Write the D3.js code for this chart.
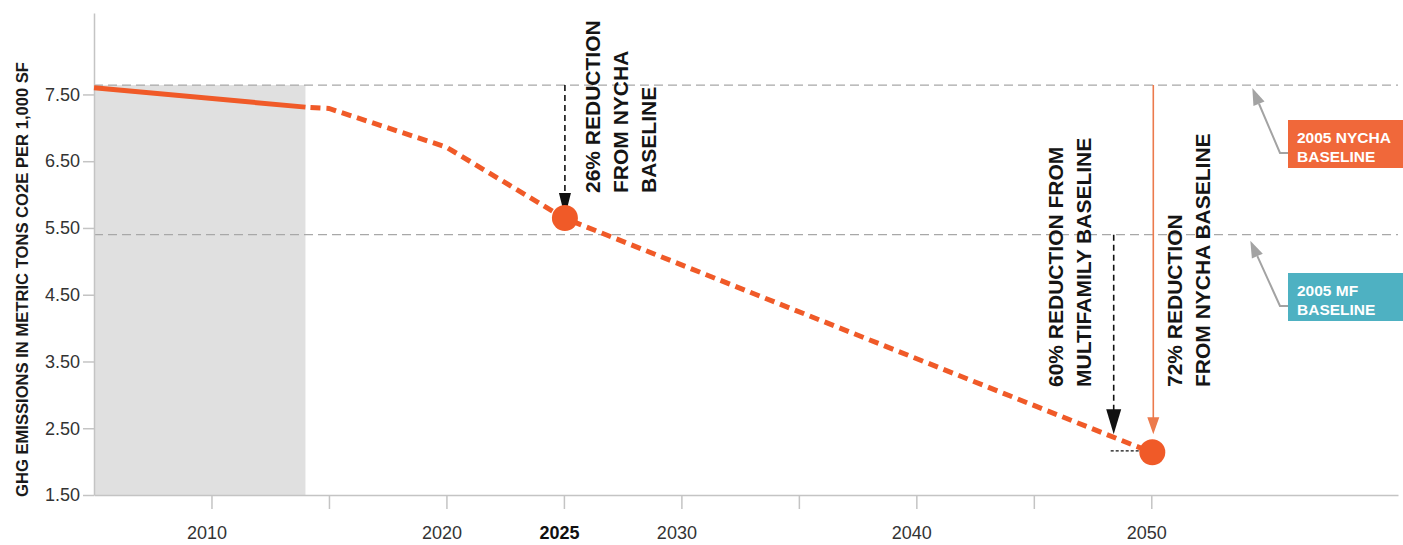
<!DOCTYPE html>
<html>
<head>
<meta charset="utf-8">
<script src="https://cdn.jsdelivr.net/npm/d3@7"></script>
<style>
  body { margin: 0; background: #ffffff; }
  svg { display: block; font-family: "Liberation Sans", Arial, Helvetica, sans-serif; }
</style>
</head>
<body>
<svg></svg>
<script>
const WIDTH = 1403;
const HEIGHT = 545;

// measured emissions and projected path
const actualYears = [2005, 2014];
const actualValues = [7.60, 7.31];
const planYears = [2014, 2015, 2020, 2025, 2050];
const planValues = [7.31, 7.29, 6.71, 5.65, 2.14];
const targetYears = [2025, 2050];
const targetValues = [5.65, 2.14];

// 2005 baselines
const baselineNames = ["2005 NYCHA", "2005 MF"];
const baselineValues = [7.64, 5.40];

const xTicks = [2010, 2015, 2020, 2025, 2030, 2035, 2040, 2045, 2050];
const xTickLabels = ["2010", "", "2020", "2025", "2030", "", "2040", "", "2050"];
const yTicks = [1.5, 2.5, 3.5, 4.5, 5.5, 6.5, 7.5];
const historyEnd = 2014;

const yTitle = "GHG EMISSIONS IN METRIC TONS CO2E PER 1,000 SF";
const note2025 = ["26% REDUCTION", "FROM NYCHA", "BASELINE"];
const noteMF = ["60% REDUCTION FROM", "MULTIFAMILY BASELINE"];
const noteNYCHA = ["72% REDUCTION", "FROM NYCHA BASELINE"];

const ORANGE = "#f05a28";

function drawArrow(g, xPos, yFrom, yTo, opts) {
    const headLen = opts.headLen, headWidth = opts.headWidth;
    g.append("line")
        .attr("x1", xPos).attr("x2", xPos)
        .attr("y1", yFrom).attr("y2", yTo - headLen + 2)
        .style("stroke", opts.color)
        .style("stroke-width", opts.width)
        .style("stroke-dasharray", opts.dash || null);
    g.append("path")
        .attr("d", `M${xPos},${yTo}L${xPos - headWidth / 2},${yTo - headLen}L${xPos + headWidth / 2},${yTo - headLen}Z`)
        .style("fill", opts.color);
}

function drawNote(g, xPos, yPos, lines) {
    lines.forEach((t, i) => {
        g.append("text")
            .attr("transform", `translate(${xPos + i * 28},${yPos}) rotate(-90)`)
            .attr("text-anchor", "start")
            .style("font-size", "21px")
            .style("font-weight", "bold")
            .style("fill", "#151515")
            .text(t);
    });
}

function drawLegendArrow(g, tipX, tipY, elbowX, elbowY, boxX) {
    const angle = Math.atan2(tipY - elbowY, tipX - elbowX);
    const headLen = 17, headWidth = 12;
    const bx = tipX - headLen * Math.cos(angle), by = tipY - headLen * Math.sin(angle);
    const px = -Math.sin(angle) * headWidth / 2, py = Math.cos(angle) * headWidth / 2;
    g.append("path")
        .attr("d", `M${boxX},${elbowY}L${elbowX},${elbowY}L${bx},${by}`)
        .style("fill", "none")
        .style("stroke", "#a3a3a3")
        .style("stroke-width", 2);
    g.append("path")
        .attr("d", `M${tipX},${tipY}L${bx + px},${by + py}L${bx - px},${by - py}Z`)
        .style("fill", "#a3a3a3");
}

function drawChart(svg) {
    svg.attr("width", WIDTH).attr("height", HEIGHT);

    const x = d3.scaleLinear().domain([2005, 2060.5]).range([94, 1398]);
    const y = d3.scaleLinear().domain([1.5, 8.72]).range([495, 13]);

    const g = svg.append("g");

    // shaded history period
    g.append("rect")
        .attr("x", x(2005))
        .attr("y", y(baselineValues[0]))
        .attr("width", x(historyEnd) - x(2005))
        .attr("height", y(1.5) - y(baselineValues[0]))
        .style("fill", "#e0e0e0");

    // baselines
    g.selectAll("line.baseline")
        .data(baselineValues)
        .enter().append("line")
        .attr("class", "baseline")
        .attr("x1", x(2005)).attr("x2", x.range()[1])
        .attr("y1", d => y(d)).attr("y2", d => y(d))
        .style("stroke", "#a8a8a8")
        .style("stroke-width", 1.3)
        .style("stroke-dasharray", "9,5");

    const xAxis = g.append("g")
        .attr("transform", `translate(0,${y(1.5)})`)
        .call(d3.axisBottom(x)
            .tickValues(xTicks)
            .tickSize(14)
            .tickSizeOuter(0)
            .tickPadding(17)
            .tickFormat((d, i) => xTickLabels[i]));

    const yAxis = g.append("g")
        .attr("transform", `translate(${x(2005)},0)`)
        .call(d3.axisLeft(y)
            .tickValues(yTicks)
            .tickSize(11)
            .tickSizeOuter(0)
            .tickPadding(3)
            .tickFormat(d3.format(".2f")));

    [xAxis, yAxis].forEach(a => {
        a.selectAll("path, line").style("stroke", "#c4c4c4").style("stroke-width", 1.5);
        a.selectAll("text")
            .style("font-size", "18px")
            .style("font-family", "'Liberation Sans', Arial, Helvetica")
            .style("fill", "#333333");
    });
    xAxis.selectAll("text").attr("dx", -5);
    xAxis.selectAll("text")
        .filter(d => d === 2025)
        .style("font-weight", "bold")
        .style("fill", "#111111");

    const line = d3.line()
        .x(d => x(d[0]))
        .y(d => y(d[1]));

    g.append("path")
        .datum(d3.zip(actualYears, actualValues))
        .attr("d", line)
        .style("fill", "none")
        .style("stroke", ORANGE)
        .style("stroke-width", 5);

    g.append("path")
        .datum(d3.zip(planYears, planValues))
        .attr("d", line)
        .style("fill", "none")
        .style("stroke", ORANGE)
        .style("stroke-width", 5)
        .style("stroke-dasharray", "10,6")
        .style("stroke-dashoffset", -5);

    // arrows to the targets
    drawArrow(g, x(targetYears[0]) + 1, y(baselineValues[0]), y(targetValues[0]) - 1,
        { color: "#111111", width: 1.6, dash: "6,4", headLen: 24, headWidth: 12 });

    const mfYear = 2048.4;
    const mfValue = baselineValues[1] * 0.4;
    drawArrow(g, x(mfYear), y(baselineValues[1]), y(planValues[3] + (planValues[4] - planValues[3]) * (mfYear - 2025) / 25) - 3,
        { color: "#111111", width: 1.6, dash: "6,4", headLen: 25, headWidth: 15 });
    g.append("line")
        .attr("x1", x(mfYear) - 3).attr("x2", x(targetYears[1]))
        .attr("y1", y(mfValue)).attr("y2", y(mfValue))
        .style("stroke", "#111111")
        .style("stroke-width", 1.2)
        .style("stroke-dasharray", "3,2");

    drawArrow(g, x(targetYears[1]) + 2, y(baselineValues[0]), y(targetValues[1]) - 18,
        { color: "#ec7a4c", width: 1.6, headLen: 17, headWidth: 12 });

    // target dots
    g.selectAll("circle.target")
        .data(d3.zip(targetYears, targetValues))
        .enter().append("circle")
        .attr("class", "target")
        .attr("cx", d => x(d[0]) + 1)
        .attr("cy", d => y(d[1]))
        .attr("r", 13)
        .style("fill", ORANGE);

    drawNote(g, x(2025) + 36, 193, note2025);
    drawNote(g, x(mfYear) - 51, 387, noteMF);
    drawNote(g, x(2050) + 31, 387, noteNYCHA);

    // legend boxes
    const boxX = 1288;
    const boxTops = [120, 273];
    const boxColors = ["#f0683a", "#4eb1c2"];
    baselineNames.forEach((name, i) => {
        g.append("rect")
            .attr("x", boxX).attr("y", boxTops[i])
            .attr("width", WIDTH - boxX).attr("height", 48)
            .style("fill", boxColors[i]);
        const t = g.append("text")
            .attr("x", boxX + 9)
            .attr("y", boxTops[i] + 23)
            .style("font-size", "15.5px")
            .style("font-weight", "bold")
            .style("fill", "#ffffff");
        t.append("tspan").text(name);
        t.append("tspan").attr("x", boxX + 9).attr("dy", 19).text("BASELINE");
        drawLegendArrow(g, x(2054.3) - i * 2, y(baselineValues[i]) + 3 + i * 3, 1280, boxTops[i] + 33, boxX);
    });

    // y axis title
    g.append("text")
        .attr("transform", `translate(28,${(62 + 497) / 2}) rotate(-90)`)
        .attr("text-anchor", "middle")
        .attr("textLength", 435)
        .attr("lengthAdjust", "spacingAndGlyphs")
        .style("font-size", "17px")
        .style("font-weight", "bold")
        .style("fill", "#1a1a1a")
        .text(yTitle);
}

function onReady() {
    drawChart(d3.select("svg"));
}

document.addEventListener("DOMContentLoaded", onReady);
</script>
</body>
</html>
